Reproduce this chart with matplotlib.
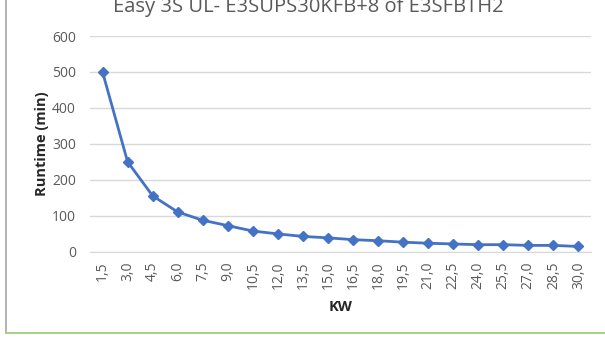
import matplotlib
matplotlib.use("Agg")
import matplotlib.pyplot as plt
from matplotlib.lines import Line2D

categories = ["1,5", "3,0", "4,5", "6,0", "7,5", "9,0", "10,5", "12,0", "13,5", "15,0",
              "16,5", "18,0", "19,5", "21,0", "22,5", "24,0", "25,5", "27,0", "28,5", "30,0"]
runtime = [500, 250, 155, 110, 87, 72, 57, 49, 42, 38, 33, 30, 26, 23, 21, 19, 19, 17, 17, 14]
yticks = [0, 100, 200, 300, 400, 500, 600]

plt.rcParams['font.family'] = ['Open Sans', 'DejaVu Sans']

fig = plt.figure(figsize=(6.05, 3.6), dpi=100)
ax = fig.add_axes([90/605, 1-251.5/360, (591-90)/605, (251.5-36)/360])

x = list(range(len(categories)))
ax.plot(x, runtime, color="#4472C4", linewidth=2, marker="D", markersize=5, zorder=3)

ax.set_xlim(-0.5, len(categories)-0.5)
ax.set_ylim(0, 600)
ax.set_yticks(yticks)
ax.set_xticks(x)
ax.set_xticklabels(categories, rotation=90)
ax.grid(axis='y', color="#D9D9D9", linewidth=1)
ax.set_axisbelow(True)
for s in ['top', 'right', 'left']:
    ax.spines[s].set_visible(False)
ax.spines['bottom'].set_color("#D9D9D9")
ax.tick_params(axis='both', length=0, colors="#595959", labelsize=10)
ax.tick_params(axis='y', pad=10)
ax.tick_params(axis='x', pad=7)

ax.set_ylabel("Runtime (min)", fontsize=10.5, fontweight='bold', color="#262626", labelpad=2)
ax.set_xlabel("KW", fontsize=10.5, fontweight='bold', color="#262626", labelpad=8)

fig.text(308/605, 1-12/360, "Easy 3S UL- E3SUPS30KFB+8 of E3SFBTH2", ha='center', va='baseline',
         fontsize=14.5, color="#595959")

fig.add_artist(Line2D([6/605, 6/605], [1-333/360, 1], color="#A6A6A6", linewidth=1.2, transform=fig.transFigure))
fig.add_artist(Line2D([6/605, 1], [1-333/360, 1-333/360], color="#A9D18E", linewidth=1.5, transform=fig.transFigure))

fig.savefig("out.png", dpi=100)
